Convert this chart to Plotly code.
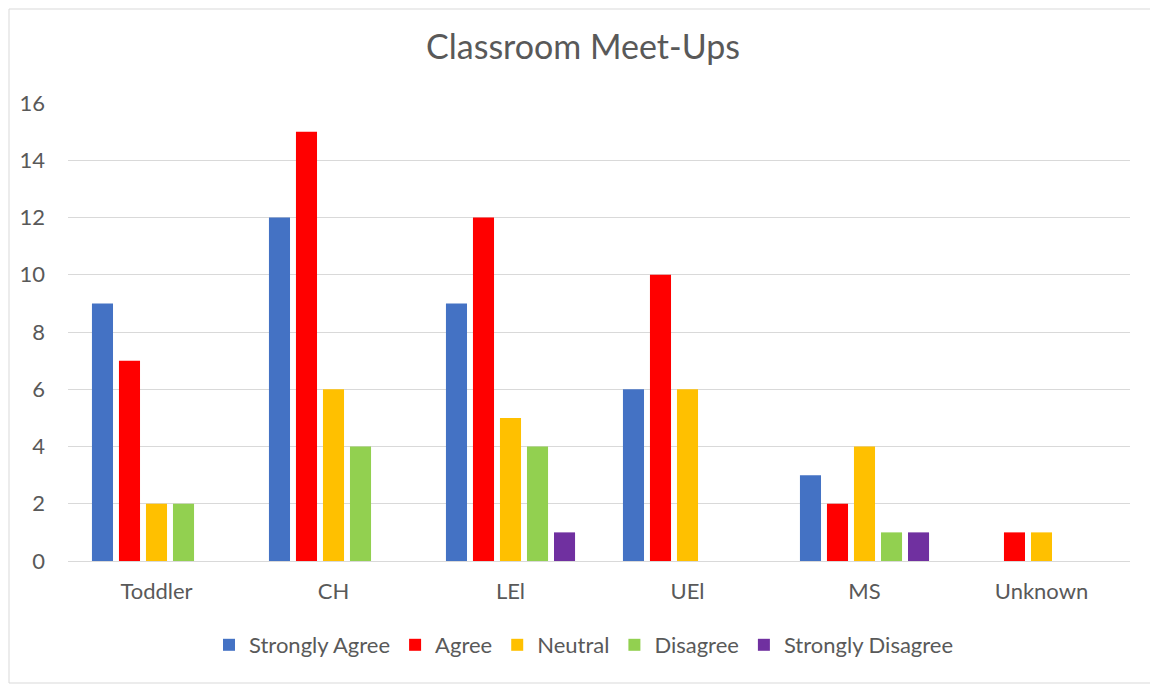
import plotly.graph_objects as go

categories = ["Toddler", "CH", "LEl", "UEl", "MS", "Unknown"]
strongly_agree = [9, 12, 9, 6, 3, 0]
agree = [7, 15, 12, 10, 2, 1]
neutral = [2, 6, 5, 6, 4, 1]
disagree = [2, 4, 4, 0, 1, 0]
strongly_disagree = [0, 0, 1, 0, 1, 0]

series = [
    ("Strongly Agree", strongly_agree, "#4472C4"),
    ("Agree", agree, "#FF0000"),
    ("Neutral", neutral, "#FFC000"),
    ("Disagree", disagree, "#92D050"),
    ("Strongly Disagree", strongly_disagree, "#7030A0"),
]

font_family = "Lato, 'Open Sans', sans-serif"
grey = "#595959"

fig = go.Figure()
for name, vals, color in series:
    fig.add_trace(go.Bar(x=categories, y=vals, name=name, marker=dict(color=color, line=dict(width=0))))

# page body has an 8px margin; work in screen coordinates and offset
OFF = 8
W, H = 1158 - OFF, 684 - OFF
L_px, R_px, T_px, B_px = 68, 1130, 103, 561  # plot area in screen coords
l, t = L_px - OFF, T_px - OFF
r = W - (R_px - OFF)
b = H - (B_px - OFF)
pw, ph = R_px - L_px, B_px - T_px

def px(xs):
    return (xs - L_px) / pw

def py(ys):
    return (B_px - ys) / ph

fig.update_layout(
    width=W, height=H,
    margin=dict(l=l, r=r, t=t, b=b),
    paper_bgcolor="white", plot_bgcolor="white",
    barmode="group", bargap=0.237, bargroupgap=0.22,
    title=dict(text="Classroom Meet-Ups", x=0.5, xanchor="center", y=1 - (47 - OFF) / H, yanchor="middle",
               font=dict(family=font_family, size=34, color=grey)),
    font=dict(family=font_family, size=22, color=grey),
    xaxis=dict(showgrid=False, showline=False, ticks="", ticklabelstandoff=15,
               tickfont=dict(size=22, color=grey)),
    yaxis=dict(range=[0, 16], dtick=2, showgrid=True, gridcolor="#d9d9d9", gridwidth=1,
               zeroline=True, zerolinecolor="#d9d9d9", zerolinewidth=1,
               showline=False, ticks="", ticklabelstandoff=22, tickfont=dict(size=22, color=grey)),
    legend=dict(orientation="h", x=px(584), xanchor="center", y=py(645), yanchor="middle",
                font=dict(size=22, color=grey), itemwidth=30, traceorder="normal"),
    shapes=[dict(type="rect", xref="paper", yref="paper",
                 x0=px(9), x1=px(1152), y0=py(683), y1=py(9),
                 line=dict(color="#d9d9d9", width=1), fillcolor="rgba(0,0,0,0)", layer="below")],
)

fig.write_html("out.html")
